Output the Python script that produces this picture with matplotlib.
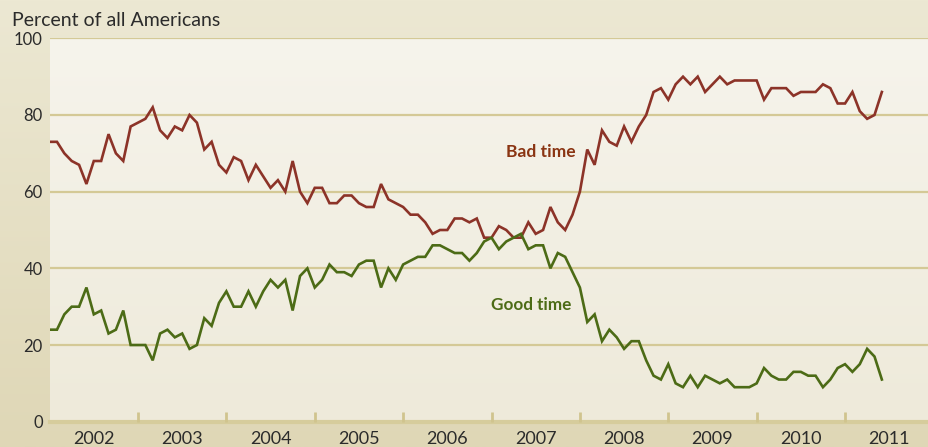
import numpy as np
import matplotlib
matplotlib.use("Agg")
import matplotlib.pyplot as plt

plt.rcParams['font.family'] = ['Lato', 'DejaVu Sans']

# monthly survey, Jan 2002 .. Jun 2011
start_year = 2002
bad_time = [73, 73, 70, 68, 67, 62, 68, 68, 75, 70, 68, 77,
            78, 79, 82, 76, 74, 77, 76, 80, 78, 71, 73, 67,
            65, 69, 68, 63, 67, 64, 61, 63, 60, 68, 60, 57,
            61, 61, 57, 57, 59, 59, 57, 56, 56, 62, 58, 57,
            56, 54, 54, 52, 49, 50, 50, 53, 53, 52, 53, 48,
            48, 51, 50, 48, 48, 52, 49, 50, 56, 52, 50, 54,
            60, 71, 67, 76, 73, 72, 77, 73, 77, 80, 86, 87,
            84, 88, 90, 88, 90, 86, 88, 90, 88, 89, 89, 89,
            89, 84, 87, 87, 87, 85, 86, 86, 86, 88, 87, 83,
            83, 86, 81, 79, 80, 86]
good_time = [24, 24, 28, 30, 30, 35, 28, 29, 23, 24, 29, 20,
             20, 20, 16, 23, 24, 22, 23, 19, 20, 27, 25, 31,
             34, 30, 30, 34, 30, 34, 37, 35, 37, 29, 38, 40,
             35, 37, 41, 39, 39, 38, 41, 42, 42, 35, 40, 37,
             41, 42, 43, 43, 46, 46, 45, 44, 44, 42, 44, 47,
             48, 45, 47, 48, 49, 45, 46, 46, 40, 44, 43, 39,
             35, 26, 28, 21, 24, 22, 19, 21, 21, 16, 12, 11,
             15, 10, 9, 12, 9, 12, 11, 10, 11, 9, 9, 9,
             10, 14, 12, 11, 11, 13, 13, 12, 12, 9, 11, 14,
             15, 13, 15, 19, 17, 11]
year_labels = ['2002', '2003', '2004', '2005', '2006', '2007', '2008', '2009', '2010', '2011']
y_ticks = [0, 20, 40, 60, 80, 100]

x = start_year + np.arange(len(bad_time)) / 12.0

fig = plt.figure(figsize=(9.29, 4.47), dpi=100)

# outer tan background
bg = fig.add_axes([0, 0, 1, 1], zorder=-10)
grad = np.linspace(0, 1, 256).reshape(-1, 1)
c_top = np.array([0xec, 0xe8, 0xd3]) / 255
c_bot = np.array([0xdf, 0xd7, 0xb6]) / 255
img = c_top[None, None, :] * (1 - grad[:, :, None]) + c_bot[None, None, :] * grad[:, :, None]
bg.imshow(img, aspect='auto', extent=[0, 1, 0, 1])
bg.set_axis_off()

ax = fig.add_axes([0.0534, 0.0566, 0.9466, 0.8577])
ax.set_xlim(2002, 2011.95)
ax.set_ylim(0, 100)

# plot area gradient
p_top = np.array([0xf6, 0xf4, 0xec]) / 255
p_bot = np.array([0xee, 0xea, 0xda]) / 255
pimg = p_top[None, None, :] * (1 - grad[:, :, None]) + p_bot[None, None, :] * grad[:, :, None]
ax.imshow(pimg, aspect='auto', extent=[2002, 2011.95, 0, 100], zorder=0)

for yv in y_ticks[1:]:
    ax.axhline(yv, color='#d4c996', lw=1.6, zorder=1)
ax.axhline(0, color='#d6cc9c', lw=3, zorder=1, clip_on=False)

ax.plot(x, bad_time, color='#8c3328', lw=1.9, zorder=3, solid_joinstyle='miter')
ax.plot(x, good_time, color='#4c6b16', lw=1.9, zorder=3, solid_joinstyle='miter')

ax.text(2007.95, 70.3, 'Bad time', color='#8a3513', fontsize=12.6, fontweight='bold',
        ha='right', va='center', zorder=4)
ax.text(2007.9, 30.5, 'Good time', color='#4c6b16', fontsize=12.3, fontweight='bold',
        ha='right', va='center', zorder=4)

for s in ax.spines.values():
    s.set_visible(False)

ax.set_yticks(y_ticks)
ax.set_yticklabels([str(v) for v in y_ticks])
ax.tick_params(axis='y', length=0, pad=5, labelsize=12, labelcolor='#2b2b2b')

ax.set_xticks(np.arange(2003, 2012), minor=True)
ax.set_xticks(np.arange(2002, 2012) + 0.5)
ax.set_xticklabels(year_labels)
ax.tick_params(axis='x', which='major', length=0, pad=7, labelsize=13, labelcolor='#2b2b2b')
ax.tick_params(axis='x', which='minor', direction='in', length=7, width=2, color='#d0c48e')

fig.text(0.013, 0.955, 'Percent of all Americans', fontsize=14, color='#2b2b2b',
         ha='left', va='center')

fig.savefig('out.png', dpi=100)
